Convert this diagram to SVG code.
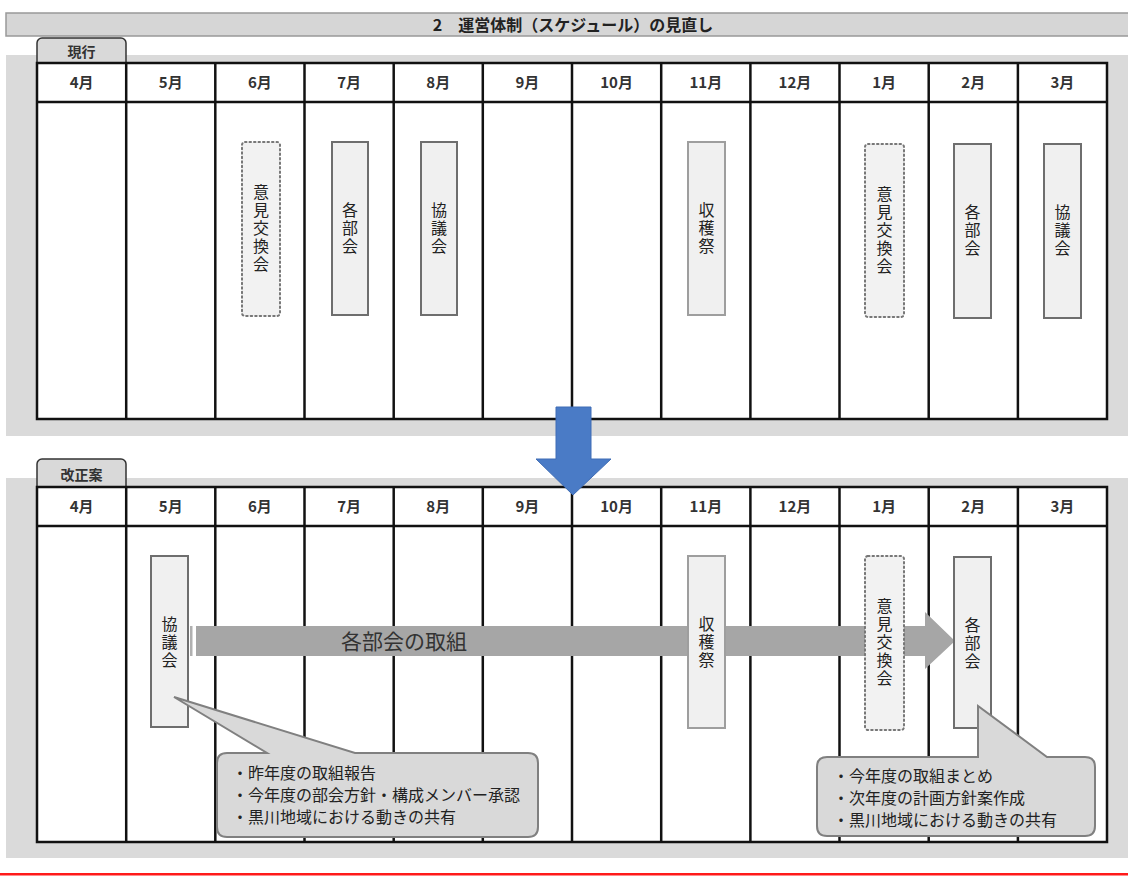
<svg xmlns="http://www.w3.org/2000/svg" width="1128" height="877" viewBox="0 0 1128 877">
<defs>
<style>
text{font-family:"Noto Sans CJK JP","Noto Sans CJK SC",sans-serif;fill:#222}
.mon{font-size:15px;font-weight:bold;fill:#333;text-anchor:middle}
.vt{font-size:16px;writing-mode:vertical-rl;text-anchor:middle;letter-spacing:2px}
.tbl{fill:#fff;stroke:#111;stroke-width:2.5}
.ln{stroke:#111;stroke-width:2.5}
.box{fill:#f0f0f0;stroke:#6e6e6e;stroke-width:2}
.boxl{fill:#f0f0f0;stroke:#9e9e9e;stroke-width:2}
.dot{fill:#f2f2f2;stroke:#777;stroke-width:2;stroke-dasharray:1.5 3;stroke-linecap:round}
.tab{fill:#d9d9d9;stroke:#333;stroke-width:1.5}
.bg{fill:#dadada}
.call{fill:#d9d9d9;stroke:#808080;stroke-width:2}
.ct{font-size:16px;fill:#222}
</style>
</defs>
<rect width="1128" height="877" fill="#fff"/>
<!-- header bar -->
<g id="title">
<rect x="6" y="13" width="1124" height="23" fill="#d6d6d6" stroke="#999" stroke-width="1.5"/>
<text x="573" y="30.5" style="font-size:16px;font-weight:bold;text-anchor:middle">2　運営体制（スケジュール）の見直し</text>
</g>
<!-- current section -->
<g id="current">
<rect class="bg" x="6" y="55" width="1122" height="381"/>
<rect class="tab" x="37" y="38" width="89" height="29" rx="5"/>
<text x="81.5" y="57" style="font-size:14px;font-weight:bold;text-anchor:middle;fill:#333">現行</text>
<rect class="tbl" x="37" y="63" width="1070" height="356"/>
<line class="ln" x1="37" y1="102" x2="1107" y2="102"/>
<g class="ln">
<line x1="126.2" y1="63" x2="126.2" y2="419"/><line x1="215.3" y1="63" x2="215.3" y2="419"/><line x1="304.5" y1="63" x2="304.5" y2="419"/><line x1="393.7" y1="63" x2="393.7" y2="419"/><line x1="482.8" y1="63" x2="482.8" y2="419"/><line x1="572" y1="63" x2="572" y2="419"/><line x1="661.2" y1="63" x2="661.2" y2="419"/><line x1="750.4" y1="63" x2="750.4" y2="419"/><line x1="839.5" y1="63" x2="839.5" y2="419"/><line x1="928.7" y1="63" x2="928.7" y2="419"/><line x1="1017.9" y1="63" x2="1017.9" y2="419"/>
</g>
<g>
<text class="mon" x="81.6" y="88">4月</text><text class="mon" x="170.8" y="88">5月</text><text class="mon" x="259.9" y="88">6月</text><text class="mon" x="349.1" y="88">7月</text><text class="mon" x="438.3" y="88">8月</text><text class="mon" x="527.4" y="88">9月</text><text class="mon" x="616.6" y="88">10月</text><text class="mon" x="705.8" y="88">11月</text><text class="mon" x="794.9" y="88">12月</text><text class="mon" x="884.1" y="88">1月</text><text class="mon" x="973.3" y="88">2月</text><text class="mon" x="1062.4" y="88">3月</text>
</g>
</g>
<g id="c-iken1"><rect class="dot" x="242" y="142" width="38" height="174" rx="3"/><text class="vt" x="261" y="229">意見交換会</text></g>
<g id="c-bukai1"><rect class="box" x="332" y="142" width="36" height="173"/><text class="vt" x="350" y="229">各部会</text></g>
<g id="c-kyogi1"><rect class="box" x="421" y="142" width="36" height="173"/><text class="vt" x="439" y="229">協議会</text></g>
<g id="c-shukaku"><rect class="boxl" x="688" y="142" width="37" height="173"/><text class="vt" x="706.5" y="229">収穫祭</text></g>
<g id="c-iken2"><rect class="dot" x="865" y="144" width="39" height="173" rx="3"/><text class="vt" x="884.5" y="231">意見交換会</text></g>
<g id="c-bukai2"><rect class="box" x="954" y="144" width="37" height="174"/><text class="vt" x="972.5" y="231">各部会</text></g>
<g id="c-kyogi2"><rect class="box" x="1044" y="144" width="37" height="174"/><text class="vt" x="1062.5" y="231">協議会</text></g>
<!-- proposal section -->
<g id="proposal">
<rect class="bg" x="6" y="478" width="1122" height="380"/>
<rect class="tab" x="37" y="459" width="89" height="32" rx="5"/>
<text x="81.5" y="480" style="font-size:14px;font-weight:bold;text-anchor:middle;fill:#333">改正案</text>
<rect class="tbl" x="37" y="487" width="1070" height="355"/>
<line class="ln" x1="37" y1="526" x2="1107" y2="526"/>
<g class="ln">
<line x1="126.2" y1="487" x2="126.2" y2="842"/><line x1="215.3" y1="487" x2="215.3" y2="842"/><line x1="304.5" y1="487" x2="304.5" y2="842"/><line x1="393.7" y1="487" x2="393.7" y2="842"/><line x1="482.8" y1="487" x2="482.8" y2="842"/><line x1="572" y1="487" x2="572" y2="842"/><line x1="661.2" y1="487" x2="661.2" y2="842"/><line x1="750.4" y1="487" x2="750.4" y2="842"/><line x1="839.5" y1="487" x2="839.5" y2="842"/><line x1="928.7" y1="487" x2="928.7" y2="842"/><line x1="1017.9" y1="487" x2="1017.9" y2="842"/>
</g>
<g>
<text class="mon" x="81.6" y="512">4月</text><text class="mon" x="170.8" y="512">5月</text><text class="mon" x="259.9" y="512">6月</text><text class="mon" x="349.1" y="512">7月</text><text class="mon" x="438.3" y="512">8月</text><text class="mon" x="527.4" y="512">9月</text><text class="mon" x="616.6" y="512">10月</text><text class="mon" x="705.8" y="512">11月</text><text class="mon" x="794.9" y="512">12月</text><text class="mon" x="884.1" y="512">1月</text><text class="mon" x="973.3" y="512">2月</text><text class="mon" x="1062.4" y="512">3月</text>
</g>
</g>
<!-- connectors -->
<g id="connectors">
<path d="M556,407 H591 V459 H611 L573,495 L536,459 H556 Z" fill="#4a7bc6" stroke="#3f6db5" stroke-width="1"/>
<rect x="190" y="626" width="2.5" height="30" fill="#b0b0b0"/>
<path d="M196,626 H925 V612 L955,641 L925,669 V656 H196 Z" fill="#a6a6a6"/>
<text x="404" y="649" style="font-size:21px;fill:#333;text-anchor:middle">各部会の取組</text>
</g>
<g id="p-kyogi"><rect class="box" x="151" y="556" width="37" height="171"/><text class="vt" x="169.5" y="643">協議会</text></g>
<g id="p-shukaku"><rect class="boxl" x="688" y="556" width="37" height="172"/><text class="vt" x="706.5" y="643">収穫祭</text></g>
<g id="p-iken"><rect class="dot" x="865" y="556" width="39" height="174" rx="3"/><text class="vt" x="884.5" y="643">意見交換会</text></g>
<g id="p-bukai"><rect class="box" x="954" y="557" width="37" height="171"/><text class="vt" x="972.5" y="644">各部会</text></g>
<g id="callout1">
<path class="call" d="M227,753 L267,753 L174,697 L355,753 L528,753 Q538,753 538,763 L538,827 Q538,837 528,837 L227,837 Q217,837 217,827 L217,763 Q217,753 227,753 Z"/>
<text class="ct" x="232" y="779">・昨年度の取組報告</text>
<text class="ct" x="232" y="801">・今年度の部会方針・構成メンバー承認</text>
<text class="ct" x="232" y="823">・黒川地域における動きの共有</text>
</g>
<g id="callout2">
<path class="call" d="M827,757 L978,757 L978,706 L1047,757 L1085,757 Q1095,757 1095,767 L1095,826 Q1095,836 1085,836 L827,836 Q817,836 817,826 L817,767 Q817,757 827,757 Z"/>
<text class="ct" x="833" y="782">・今年度の取組まとめ</text>
<text class="ct" x="833" y="804">・次年度の計画方針案作成</text>
<text class="ct" x="833" y="826">・黒川地域における動きの共有</text>
</g>
<rect x="0" y="873" width="1128" height="2.5" fill="#ff1a1a"/>
</svg>
